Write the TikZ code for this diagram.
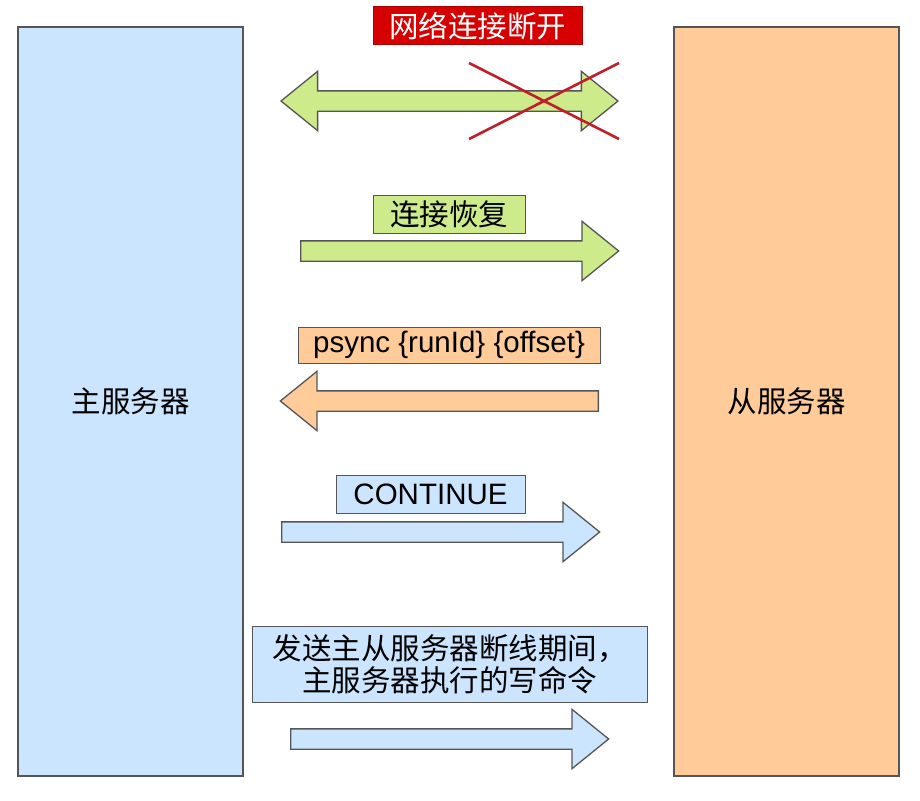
\documentclass[tikz,border=0pt]{standalone}
\usepackage{fontspec}
\setmainfont{Liberation Sans}
\newfontfamily\cjk{Noto Sans CJK SC}
\usetikzlibrary{shapes,arrows}

\definecolor{serverblue}{RGB}{204,229,255}
\definecolor{serverorange}{RGB}{254,203,153}
\definecolor{linkgreen}{RGB}{205,235,139}
\definecolor{alertred}{RGB}{214,0,0}
\definecolor{crossred}{RGB}{192,30,40}
\definecolor{edgegray}{RGB}{85,85,85}

\newcommand{\bigfont}{\fontsize{29.5}{32}\selectfont}

\begin{document}
\begin{tikzpicture}[x=1pt,y=-1pt]

\tikzstyle{server} = [draw=edgegray, line width=1.6pt, minimum width=225pt, minimum height=749pt, inner sep=0pt, font=\cjk\bigfont]
\tikzstyle{msgbox} = [draw=edgegray, line width=1pt, inner sep=0pt, font=\bigfont]
\tikzstyle{arrowblock} = [single arrow, draw=edgegray, line width=1.3pt, inner xsep=0pt, inner ysep=9.5pt, minimum height=318pt, single arrow head extend=19.5pt, single arrow tip angle=78]

\useasboundingbox (0,0) rectangle (920,800);
\coordinate (origin) at (0,0);

%Servers: left and right

\path (origin)+(130.5,401.5) node (master_box) [server, fill=serverblue] {主服务器};
\path (master_box)+(656,0) node (slave_box) [server, fill=serverorange] {从服务器};

%Connection lost

\path (origin)+(449.5,101) node (break_arrow) [double arrow, draw=edgegray, line width=1.3pt, fill=linkgreen, inner xsep=0pt, inner ysep=9.5pt, minimum height=337pt, double arrow head extend=19.5pt, double arrow tip angle=78] {};
\path (origin)+(477.5,26) node (break_text) [msgbox, fill=alertred, draw=alertred!80!black, text=white, font=\cjk\bigfont, minimum width=209pt, minimum height=38pt] {网络连接断开};

\path (break_arrow.east)+(-150,-38) coordinate (cross_a);
\path (break_arrow.east)+(0,38) coordinate (cross_b);
\path (break_arrow.east)+(-150,38) coordinate (cross_c);
\path (break_arrow.east)+(0,-38) coordinate (cross_d);
\draw [crossred, line width=2.6pt] (cross_a) -- (cross_b);
\draw [crossred, line width=2.6pt] (cross_c) -- (cross_d);

%Connection restored

\path (origin)+(300,251) node (resume_arrow) [arrowblock, fill=linkgreen, anchor=tail] {};
\path (origin)+(449,214) node (resume_text) [msgbox, fill=linkgreen, font=\cjk\bigfont, minimum width=152pt, minimum height=38pt] {连接恢复};

%psync

\path (origin)+(599,401) node (psync_arrow) [arrowblock, fill=serverorange, shape border rotate=180, anchor=tail] {};
\path (origin)+(449,345) node (psync_text) [msgbox, fill=serverorange, minimum width=302pt, minimum height=36pt] {psync \{runId\} \{offset\}};

%CONTINUE

\path (origin)+(281,532) node (cont_arrow) [arrowblock, fill=serverblue, anchor=tail] {};
\path (origin)+(430.5,494) node (cont_text) [msgbox, fill=serverblue, minimum width=189pt, minimum height=38pt] {CONTINUE};

%Write commands

\path (origin)+(290,739) node (cmd_arrow) [arrowblock, fill=serverblue, anchor=tail] {};
\path (origin)+(449.5,664) node (cmd_text) [msgbox, fill=serverblue, font=\cjk\bigfont, align=center, minimum width=395pt, minimum height=76pt] {发送主从服务器断线期间，\\主服务器执行的写命令};

\end{tikzpicture}
\end{document}
